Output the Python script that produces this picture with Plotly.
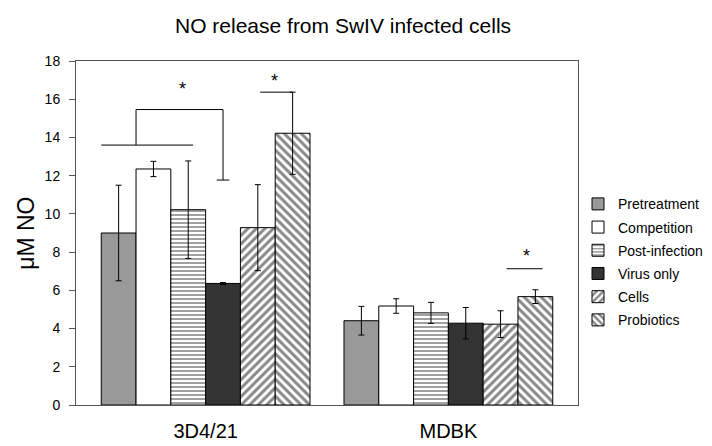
import plotly.graph_objects as go

# cell lines (x categories) and treatments (series)
cell_lines = ["3D4/21", "MDBK"]
treatments = ["Pretreatment", "Competition", "Post-infection", "Virus only", "Cells", "Probiotics"]

# mean NO release (uM) per treatment, one value per cell line
pretreatment = [9.0, 4.41]
competition = [12.35, 5.18]
post_infection = [10.22, 4.82]
virus_only = [6.36, 4.28]
cells = [9.28, 4.23]
probiotics = [14.22, 5.67]

# error bars
pretreatment_err = [2.5, 0.75]
competition_err = [0.4, 0.38]
post_infection_err = [2.55, 0.55]
virus_only_err = [0.05, 0.82]
cells_err = [2.25, 0.7]
probiotics_err = [2.15, 0.36]

y_ticks = [0, 2, 4, 6, 8, 10, 12, 14, 16, 18]

series = [
    (pretreatment, pretreatment_err, dict(color="#999999")),
    (competition, competition_err, dict(color="white")),
    (post_infection, post_infection_err,
     dict(color="white", pattern=dict(shape="-", fgcolor="#444444", bgcolor="white", size=4, solidity=0.5))),
    (virus_only, virus_only_err, dict(color="#333333")),
    (cells, cells_err,
     dict(color="white", pattern=dict(shape="/", fgcolor="#111111", bgcolor="white", size=6, solidity=0.5))),
    (probiotics, probiotics_err,
     dict(color="white", pattern=dict(shape="\\", fgcolor="#111111", bgcolor="white", size=6, solidity=0.5))),
]

BARGAP = 0.14
n_series = len(treatments)
bar_w = (1 - BARGAP) / n_series
x_pos = list(range(len(cell_lines)))


def bar_center(group, i):
    return x_pos[group] + (i - (n_series - 1) / 2) * bar_w


fig = go.Figure()

for name, (vals, errs, marker) in zip(treatments, series):
    fig.add_trace(
        go.Bar(
            x=x_pos,
            y=vals,
            name=name,
            legendgroup=name,
            marker=dict(line=dict(color="black", width=1), **marker),
            error_y=dict(type="data", array=errs, color="black", thickness=1, width=3),
        )
    )

# significance brackets
line_style = dict(color="black", width=1)
lo = bar_center(0, 0) - bar_w / 2
edge = bar_center(0, 0) + bar_w / 2
shapes = [
    dict(type="line", x0=lo, x1=bar_center(0, 2) + 0.02, y0=13.6, y1=13.6),
    dict(type="line", x0=edge, x1=edge, y0=13.6, y1=15.46),
    dict(type="line", x0=edge, x1=bar_center(0, 3), y0=15.46, y1=15.46),
    dict(type="line", x0=bar_center(0, 3), x1=bar_center(0, 3), y0=15.46, y1=11.77),
    dict(type="line", x0=bar_center(0, 3) - 0.026, x1=bar_center(0, 3) + 0.026, y0=11.77, y1=11.77),
    dict(type="line", x0=bar_center(0, 4) + 0.01, x1=bar_center(0, 5), y0=16.37, y1=16.37),
    dict(type="line", x0=bar_center(1, 4) + 0.025, x1=bar_center(1, 5) + 0.03, y0=7.13, y1=7.13),
]
for s in shapes:
    s.update(xref="x", yref="y", line=line_style, layer="above")

stars = [(-0.094, 16.55), (0.283, 16.95), (1.32, 7.8)]
annotations = [
    dict(x=sx, y=sy, xref="x", yref="y", text="*", showarrow=False,
         font=dict(size=18, color="black"))
    for sx, sy in stars
]
annotations.append(
    dict(x=-0.1, y=0.5, xref="paper", yref="paper", text="μM NO", textangle=-90,
         showarrow=False, xanchor="center", yanchor="middle",
         font=dict(size=23, color="black"))
)

fig.update_layout(
    width=712,
    height=446,
    autosize=False,
    margin={"l": 68, "r": 133, "t": 53, "b": 42},
    paper_bgcolor="white",
    plot_bgcolor="white",
    font=dict(family="Liberation Sans, Arial, sans-serif", color="black"),
    title=dict(text="NO release from SwIV infected cells", x=0.532, xref="paper",
               xanchor="center", y=0.96, yanchor="middle", font=dict(size=21, color="black")),
    barmode="group",
    bargap=BARGAP,
    bargroupgap=0,
    showlegend=True,
    legend=dict(x=1.0, xanchor="left", y=0.63, yanchor="top", tracegroupgap=2,
                font=dict(size=14, color="black"), bgcolor="rgba(0,0,0,0)"),
    shapes=shapes,
    annotations=annotations,
)

fig.update_xaxes(
    range=[-0.534, 1.534],
    tickvals=x_pos,
    ticktext=cell_lines,
    tickfont=dict(size=20, color="black"),
    showline=True, linecolor="#555555", linewidth=1, mirror=True,
    ticks="", showgrid=False, zeroline=False,
    ticklabelstandoff=8,
)
fig.update_yaxes(
    range=[0, 18],
    tickvals=y_ticks,
    tickfont=dict(size=14, color="black"),
    showline=True, linecolor="#555555", linewidth=1, mirror=True,
    ticks="outside", ticklen=6, tickcolor="#555555",
    showgrid=False, zeroline=False,
    ticklabelstandoff=6,
)

fig.write_html("out.html")
